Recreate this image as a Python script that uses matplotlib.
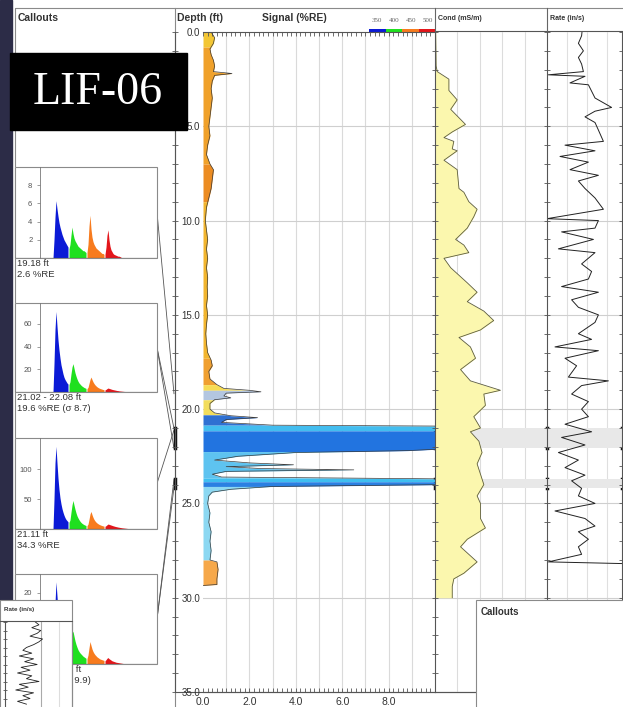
import numpy as np
import matplotlib
matplotlib.use("Agg")
import matplotlib.pyplot as plt
from matplotlib.patches import Rectangle
from matplotlib.ticker import MultipleLocator

plt.rcParams['font.family'] = ['Liberation Sans', 'DejaVu Sans']

# ---- signal log (%RE vs depth ft) ----
sig_depth = [0.0, 0.3, 0.6, 0.9, 1.2, 1.5, 1.8, 2.1, 2.2, 2.3,
             2.6, 3.0, 3.5, 4.0, 4.5, 5.0, 5.5, 6.0, 6.5, 7.0,
             7.3, 7.8, 8.3, 8.8, 9.3, 10.0, 10.5, 11.0, 11.5, 12.0,
             12.5, 13.0, 13.5, 14.0, 14.5, 15.0, 15.5, 16.0, 16.5, 17.0,
             17.4, 17.7, 18.0, 18.4, 18.7, 18.9, 19.0, 19.08, 19.15, 19.3,
             19.4, 19.5, 19.7, 20.0, 20.2, 20.35, 20.45, 20.55, 20.7, 20.85,
             20.9, 22.1, 22.2, 22.3, 22.5, 22.7, 22.85, 22.95, 23.05, 23.15,
             23.22, 23.3, 23.45, 23.6, 23.7, 24.0, 24.1, 24.25, 24.4, 24.6,
             25.0, 25.5, 26.0, 26.5, 27.0, 27.5, 28.0, 28.1, 28.5, 29.0,
             29.3, 29.35]
sig_re = [0.35, 0.5, 0.45, 0.3, 0.35, 0.45, 0.5, 0.45, 1.25, 0.5,
          0.4, 0.35, 0.4, 0.35, 0.3, 0.25, 0.3, 0.2, 0.15, 0.3,
          0.45, 0.4, 0.35, 0.25, 0.15, 0.1, 0.15, 0.2, 0.15, 0.2,
          0.15, 0.2, 0.18, 0.2, 0.15, 0.2, 0.15, 0.12, 0.15, 0.2,
          0.35, 0.4, 0.25, 0.3, 0.6, 0.9, 2.0, 2.5, 1.0, 0.9,
          1.2, 0.5, 0.3, 0.3, 0.5, 1.2, 2.35, 1.0, 0.8, 3.0,
          10.5, 10.5, 8.8, 4.0, 1.5, 0.5, 2.0, 3.9, 1.0, 2.5,
          6.5, 1.0, 0.4, 0.8, 10.5, 10.5, 3.0, 1.2, 0.4, 0.25,
          0.2, 0.3, 0.25, 0.35, 0.3, 0.35, 0.3, 0.6, 0.65, 0.6,
          0.6, 0.0]
zone_tops = [0.0, 0.8, 7.0, 9.0, 17.3, 18.7, 19.0, 19.5, 20.3, 20.85,
             21.15, 22.25, 23.65, 23.85, 24.1, 28.0]
zone_colors = ['#f3c634', '#f0a12a', '#ec8c22', '#f2b52e', '#f0a030', '#f6dc55',
               '#b3c6e0', '#f2dd5c', '#2f70d2', '#43bdef', '#2274e0', '#5ec3f0',
               '#3fbff0', '#2a80e2', '#8cd8f2', '#f6a84a']

# ---- conductivity (mS/m) ----
cond_depth = [0.0, 1.8, 2.1, 2.5, 3.1, 3.6, 4.1, 4.9, 5.3, 5.6, 5.8, 6.2, 6.3, 6.8,
              7.3, 8.3, 8.5, 9.0, 9.4, 9.8, 10.4, 11.0, 11.3, 11.7, 12.0, 12.5,
              13.3, 13.8, 14.3, 14.8, 15.3, 15.8, 16.2, 16.7, 17.3, 17.9, 18.5,
              19.0, 19.2, 19.8, 20.4, 21.0, 21.2, 21.7, 22.3, 22.9, 24.0, 24.6,
              25.0, 25.8, 26.3, 26.9, 27.3, 28.1, 28.7, 29.0, 29.4, 30.0]
cond = [0.3, 0.5, 1.0, 6.2, 6.2, 9.9, 7.0, 13.6, 7.7, 4.0, 8.4, 7.7, 9.9, 4.0,
        9.9, 10.7, 12.9, 15.1, 18.8, 17.3, 14.4, 9.2, 12.9, 15.1, 4.0, 7.0,
        14.4, 18.8, 14.4, 21.8, 26.2, 20.3, 10.7, 15.8, 18.1, 11.4, 15.8,
        29.2, 21.8, 22.5, 17.3, 20.3, 15.8, 19.6, 21.0, 18.8, 21.8, 18.8,
        20.3, 20.3, 22.5, 14.4, 11.4, 18.8, 12.9, 8.4, 7.7, 7.7]

# ---- push rate (in/s) ----
rate_depth = [0.0, 0.2, 0.6, 1.0, 1.35, 1.7, 2.1, 2.27, 2.35, 2.7, 2.8, 3.5, 4.0,
              4.2, 4.5, 4.8, 5.2, 5.8, 6.0, 6.3, 6.6, 6.9, 7.3, 7.6, 7.9, 8.3,
              8.8, 9.4, 9.9, 10.0, 10.4, 10.6, 11.0, 11.5, 11.7, 12.3, 12.7,
              13.1, 13.5, 13.8, 14.2, 14.6, 15.0, 15.4, 16.0, 16.3, 16.7, 16.9,
              17.3, 17.7, 18.3, 18.5, 18.75, 19.2, 19.6, 20.0, 20.4, 20.8, 21.2,
              21.5, 21.9, 22.3, 22.7, 23.1, 23.5, 23.8, 24.2, 24.6, 25.0, 25.4,
              25.8, 26.2, 26.5, 26.9, 27.3, 27.7, 28.1, 28.2]
rate = [1.75, 1.73, 1.57, 1.82, 1.57, 1.73, 1.82, 0.07, 1.9, 1.15, 2.07, 2.4, 3.23,
        2.4, 1.9, 2.4, 2.57, 2.82, 0.9, 2.4, 0.65, 2.07, 1.15, 2.57, 1.57, 1.9,
        2.4, 2.82, 0.0, 2.57, 2.4, 0.73, 2.32, 0.57, 2.4, 1.73, 2.23,
        2.07, 0.73, 2.57, 1.23, 1.57, 2.57, 2.4, 1.57, 2.23, 0.4, 2.57,
        0.9, 1.48, 1.07, 3.07, 1.73, 1.23, 2.07, 1.73, 2.07, 0.9, 2.23,
        0.73, 1.9, 0.57, 1.57, 0.9, 1.9, 1.23, 1.73, 1.57, 2.4, 0.4,
        1.9, 2.4, 1.57, 2.07, 1.57, 1.73, 0.07, 4.2]

# small rate panel (second page, bottom left)
mini_rate = [1.7, 1.9, 1.5, 2.0, 1.8, 1.4, 2.1, 1.9, 1.6, 1.2, 1.0, 1.5, 0.8, 1.6, 1.1,
             1.8, 0.9, 1.4, 0.7, 1.5, 1.2, 1.9, 0.8, 1.3, 0.6, 1.6, 1.0, 1.4, 0.7, 1.2]

# ---- callout waveforms (blue, green, orange, red channels) ----
chan_start = [13, 29, 47, 65]
chan_colors = ['#0b1ad6', '#1fe01f', '#f77b1e', '#e3161b']
wave_1918 = [[0, 2.0, 4.5, 6.3, 5.4, 4.6, 3.9, 3.4, 3.0, 2.6, 2.3, 2.0, 1.8, 1.6, 1.4, 1.2],
             [1.0, 1.5, 2.5, 3.4, 2.7, 2.2, 1.9, 1.7, 1.5, 1.3, 1.2, 1.1, 1.0, 0.9, 0.8, 0.8, 0.7, 0.6],
             [0.6, 1.5, 3.5, 4.7, 3.2, 2.3, 1.8, 1.5, 1.3, 1.1, 1.0, 0.9, 0.8, 0.7, 0.6, 0.5, 0.5, 0.4],
             [0.4, 1.2, 2.5, 3.1, 2.0, 1.3, 0.9, 0.7, 0.5, 0.4, 0.35, 0.3, 0.25, 0.2, 0.2, 0.15, 0.1]]
wave_2102 = [[0, 25, 55, 71, 58, 46, 37, 30, 24, 20, 16, 13, 11, 9.5, 8, 7],
             [6.5, 9, 16, 22, 25, 21, 17, 14, 11.5, 9.5, 8, 7, 6, 5.2, 4.6, 4.0, 3.6, 3.2],
             [3.0, 4, 7.5, 11, 13.2, 11, 9, 7.5, 6.3, 5.4, 4.6, 4.0, 3.5, 3.1, 2.8, 2.5, 2.2, 2.0],
             [1.9, 2.3, 3.0, 3.5, 3.2, 2.9, 2.6, 2.3, 2.1, 1.9, 1.7, 1.5, 1.3, 1.2, 1.0, 0.9,
              0.8, 0.7, 0.6, 0.5, 0.45, 0.4, 0.35, 0.3, 0.25, 0.2, 0.15]]
wave_2111 = [[0, 50, 110, 138, 110, 85, 66, 52, 42, 34, 28, 23, 19, 16, 14, 12],
             [11, 15, 28, 40, 47.7, 40, 33, 27, 22, 18.5, 15.5, 13, 11, 9.5, 8.3, 7.3, 6.5, 5.8],
             [5.5, 8, 16, 25, 29.3, 24, 19.5, 16, 13.5, 11.5, 10, 8.8, 7.8, 7, 6.3, 5.7, 5.2, 4.8],
             [4.5, 5.5, 7, 8.3, 7.8, 7.2, 6.6, 6, 5.4, 4.9, 4.4, 4, 3.6, 3.2, 2.9, 2.6, 2.3, 2,
              1.8, 1.6, 1.4, 1.2, 1.0, 0.8, 0.6, 0.4, 0.2]]
wave_2372 = [[0, 8, 17, 23, 19, 15, 12, 10, 8.3, 7, 6, 5.2, 4.5, 4, 3.6, 3.2],
             [3, 4, 6.5, 8.5, 9.2, 7.8, 6.5, 5.5, 4.7, 4, 3.5, 3.1, 2.8, 2.5, 2.2, 2, 1.8, 1.6],
             [1.5, 2.5, 4.5, 6.3, 5.2, 4.2, 3.5, 3, 2.6, 2.3, 2.0, 1.8, 1.6, 1.4, 1.3, 1.2, 1.1, 1.0],
             [0.9, 1.2, 1.6, 1.8, 1.5, 1.3, 1.1, 0.9, 0.8, 0.7, 0.6, 0.5, 0.45, 0.4, 0.35, 0.3,
              0.25, 0.2, 0.15, 0.1]]
waves = [wave_1918, wave_2102, wave_2111, wave_2372]
wave_ymax = [10, 78.5, 152, 25.2]
wave_ticks = [[2, 4, 6, 8], [20, 40, 60], [50, 100], [20]]
callout_depths = [[19.18], [21.02, 22.08], [21.11], [23.72, 24.16]]
callout_text = [['19.18 ft', '2.6 %RE'],
                ['21.02 - 22.08 ft', '19.6 %RE (σ 8.7)'],
                ['21.11 ft', '34.3 %RE'],
                ['23.72 - 24.16 ft', '27.4 %RE (σ 9.9)']]
wl_labels = ['350', '400', '450', '500']

# ---------------------------------------------------------------
W, H = 623, 707
fig = plt.figure(figsize=(W / 100, H / 100), dpi=100)


def box(x0, y0, x1, y1):
    return [x0 / W, 1 - y1 / H, (x1 - x0) / W, (y1 - y0) / H]


bg = fig.add_axes([0, 0, 1, 1], zorder=0)
bg.set_xlim(0, W)
bg.set_ylim(H, 0)
bg.axis('off')

edge = '#8a8a8a'
bg.add_patch(Rectangle((0, 0), 12, H, color='#2c2c47'))
bg.add_patch(Rectangle((15, 8), 160, H, fill=False, ec=edge, lw=0.8))
bg.plot([175, 623], [8, 8], color=edge, lw=0.8)
bg.plot([435, 623], [30.5, 30.5], color='#555', lw=0.8)
bg.plot([175, 475], [692, 692], color='#555', lw=0.8)
bg.plot([435, 435], [8, 32], color='#666', lw=0.8)
bg.plot([547, 547], [8, 32], color='#666', lw=0.8)

bg.text(18, 18, 'Callouts', fontsize=7.5, fontweight='bold', color='#333', va='center')
bg.text(177, 18, 'Depth (ft)', fontsize=7.5, fontweight='bold', color='#333', va='center')
bg.text(262, 18, 'Signal (%RE)', fontsize=7.5, fontweight='bold', color='#333', va='center')
bg.text(438, 18, 'Cond (mS/m)', fontsize=5, fontweight='bold', color='#333', va='center')
bg.text(550, 18, 'Rate (in/s)', fontsize=5, fontweight='bold', color='#333', va='center')
for i, lab in enumerate(wl_labels):
    bg.text(377 + i * 17, 20, lab, fontsize=5, color='#666', ha='center', va='center',
            family='Liberation Serif')
    bg.add_patch(Rectangle((369 + i * 16.5, 28.5), 16.5, 3, color=chan_colors[i], lw=0))

# ---- signal track ----
ax_sig = fig.add_axes(box(203, 32, 435, 692), zorder=1)
ax_sig.set_xlim(0, 10)
ax_sig.set_ylim(35, 0)
for v in range(1, 10):
    ax_sig.axvline(v, color='#dadada', lw=0.8, zorder=0)
for d in range(5, 35, 5):
    ax_sig.axhline(d, color='#cfcfcf', lw=0.8, zorder=0)

sd = np.array(sig_depth)
sv = np.array(sig_re)
edges = zone_tops + [sd[-1]]
for a, b, c in zip(edges[:-1], edges[1:], zone_colors):
    inside = (sd > a) & (sd < b)
    d = np.concatenate([[a], sd[inside], [b]])
    ax_sig.fill_betweenx(d, 0, np.interp(d, sd, sv), color=c, lw=0, zorder=1)
ax_sig.plot(sv, sd, color='#3a3a3a', lw=0.5, zorder=2)

ax_sig.set_xticks([0, 2, 4, 6, 8])
ax_sig.set_xticklabels([f'{v:.1f}' for v in [0, 2, 4, 6, 8]])
ax_sig.xaxis.set_minor_locator(MultipleLocator(0.2))
ax_sig.tick_params(axis='x', which='both', top=True, bottom=True, direction='in',
                   length=3, width=0.6, color='#555', labelsize=7.5, labelcolor='#333', pad=3.5)
ax_sig.set_yticks(np.arange(0, 36, 5))
ax_sig.set_yticklabels([f'{v:.1f}' for v in np.arange(0, 36, 5)])
ax_sig.yaxis.set_minor_locator(MultipleLocator(1))
ax_sig.spines['left'].set_position(('axes', -28 / 232))
ax_sig.tick_params(axis='y', which='both', direction='inout', length=4, width=0.6,
                   color='#555', labelsize=7, labelcolor='#333', pad=-20)
ax_sig.spines['right'].set_visible(False)
for s in ['left', 'top', 'bottom']:
    ax_sig.spines[s].set_color('#555')
    ax_sig.spines[s].set_linewidth(0.8)
ax_sig.patch.set_alpha(0)

# ---- conductivity track ----
ax_c = fig.add_axes(box(435, 32, 547, 692), zorder=1)
ax_c.set_xlim(0, 50)
ax_c.set_ylim(35, 0)
for v in [10, 20, 30, 40]:
    ax_c.axvline(v, color='#dcdcdc', lw=0.8, zorder=0)
for d in range(5, 35, 5):
    ax_c.axhline(d, color='#cfcfcf', lw=0.8, zorder=0)
for a, b in [callout_depths[1], callout_depths[3]]:
    ax_c.axhspan(a, b, color='#e8e8e8', lw=0, zorder=0)
ax_c.fill_betweenx(cond_depth, 0, cond, color='#fbf7ae', lw=0, zorder=1)
ax_c.plot(cond, cond_depth, color='#5c5c40', lw=0.6, zorder=2)
ax_c.set_xticks([])

# ---- rate track ----
ax_r = fig.add_axes(box(547, 32, 622, 692), zorder=1)
ax_r.set_xlim(0, 3.75)
ax_r.set_ylim(35, 0)
for v in [1, 2, 3]:
    ax_r.axvline(v, color='#dfdfdf', lw=0.8, zorder=0)
for d in range(5, 35, 5):
    ax_r.axhline(d, color='#cfcfcf', lw=0.8, zorder=0)
for a, b in [callout_depths[1], callout_depths[3]]:
    ax_r.axhspan(a, b, color='#e8e8e8', lw=0, zorder=0)
ax_r.plot(rate, rate_depth, color='#222', lw=0.7, zorder=2)
ax_r.set_xticks([])

for ax in (ax_c, ax_r):
    ax.set_yticks(np.arange(0, 36, 5))
    ax.set_yticklabels([])
    ax.yaxis.set_minor_locator(MultipleLocator(1))
    ax.tick_params(axis='y', which='both', direction='inout', length=4, width=0.6,
                   color='#555', right=(ax is ax_r))
    ax.spines['top'].set_visible(False)
    for s in ['left', 'right', 'bottom']:
        ax.spines[s].set_color('#555')
        ax.spines[s].set_linewidth(0.8)
    ax.patch.set_alpha(0)
ax_c.spines['right'].set_visible(False)


def depth_y(d):
    disp = ax_sig.transData.transform((0, d))
    return bg.transData.inverted().transform(disp)[1]


# thick marks on the track borders at the callout intervals
for a, b in [callout_depths[1], callout_depths[3]]:
    for x in [175, 435, 547, 622]:
        bg.plot([x, x], [depth_y(a), depth_y(b)], color='#111', lw=2.5, zorder=5)

# ---- callout waveform panels ----
panel_rows = [(167, 258), (303, 392), (438, 529), (574, 664)]
for i, (top, base) in enumerate(panel_rows):
    ax_w = fig.add_axes(box(15, top, 157, base), zorder=2)
    ax_w.set_xlim(-25, 117)
    ax_w.set_ylim(0, wave_ymax[i])
    for k, vals in enumerate(waves[i]):
        t = chan_start[k] + np.arange(len(vals))
        ax_w.fill_between(t, 0, vals, color=chan_colors[k], lw=0)
    ax_w.axhline(0, color='#222', lw=0.8)
    for s in ['top', 'right', 'bottom']:
        ax_w.spines[s].set_visible(False)
    ax_w.spines['left'].set_position(('data', 0))
    ax_w.spines['left'].set_color('#777')
    ax_w.spines['left'].set_linewidth(0.6)
    ax_w.add_patch(Rectangle((0, 0), 1, 1, transform=ax_w.transAxes, fill=False,
                             ec=edge, lw=0.8, clip_on=False))
    ax_w.set_xticks([])
    ax_w.set_yticks(wave_ticks[i])
    ax_w.tick_params(axis='y', length=2.5, width=0.5, color='#777', labelsize=5.5,
                     labelcolor='#555', pad=3)
    bg.text(17, base + 1, callout_text[i][0], fontsize=6.8, color='#333', va='top')
    bg.text(17, base + 12, callout_text[i][1], fontsize=6.8, color='#333', va='top')
    y0 = (top + base) / 2
    for d in callout_depths[i]:
        bg.plot([157, 174], [y0, depth_y(d)], color='#555', lw=0.6)

# ---- overlays (title box, second page pieces) ----
ov = fig.add_axes([0, 0, 1, 1], zorder=10)
ov.set_xlim(0, W)
ov.set_ylim(H, 0)
ov.axis('off')
ov.patch.set_alpha(0)
ov.add_patch(Rectangle((10, 53), 177, 77, color='black'))
ov.text(98, 93, 'LIF-06', color='white', fontsize=33, family='Liberation Serif',
        ha='center', va='center')
ov.add_patch(Rectangle((476, 600), 150, 110, fc='white', ec=edge, lw=0.8))
ov.text(481, 612, 'Callouts', fontsize=7, fontweight='bold', color='#333', va='center')
ov.add_patch(Rectangle((0, 600), 72, 110, fc='white', ec=edge, lw=0.8))
ov.text(4, 610, 'Rate (in/s)', fontsize=4.5, fontweight='bold', color='#333', va='center')
ov.plot([0, 72], [621, 621], color='#555', lw=0.8)

ax_m = fig.add_axes(box(5, 622, 72, 707), zorder=11)
ax_m.set_xlim(0, 3.75)
ax_m.set_ylim(len(mini_rate) * 0.3, 0)
ax_m.axvline(2, color='#aaa', lw=0.8)
ax_m.axvline(3, color='#ddd', lw=0.8)
ax_m.plot(mini_rate, np.arange(len(mini_rate)) * 0.3, color='#222', lw=0.6)
ax_m.set_xticks([])
ax_m.set_yticks([])
ax_m.yaxis.set_minor_locator(MultipleLocator(0.9))
ax_m.tick_params(axis='y', which='minor', direction='inout', length=3, color='#555')
for s in ['top', 'bottom']:
    ax_m.spines[s].set_visible(False)
ax_m.spines['left'].set_color('#555')
ax_m.spines['right'].set_color(edge)
ax_m.patch.set_alpha(0)

fig.savefig('out.png', dpi=100, facecolor='white')
